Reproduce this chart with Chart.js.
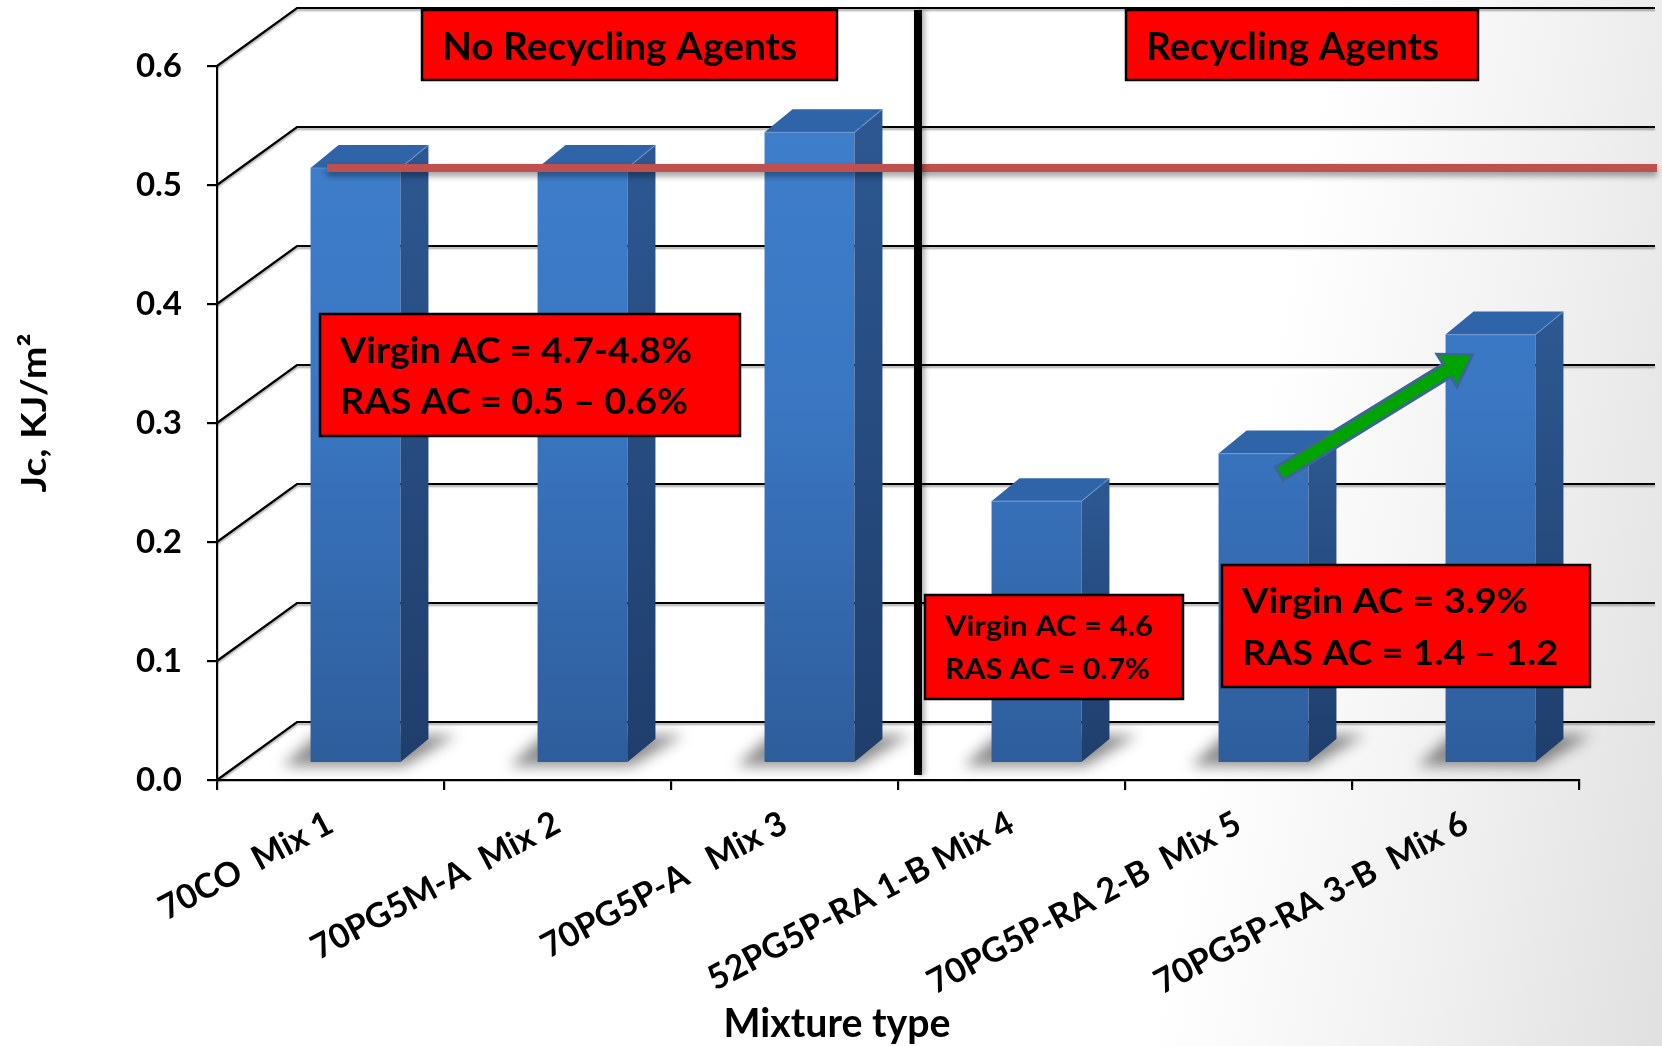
<!DOCTYPE html>
<html>
<head>
<meta charset="utf-8">
<script src="https://cdn.jsdelivr.net/npm/chart.js@4.4.1/dist/chart.umd.min.js"></script>
<style>
  html, body { margin: 0; padding: 0; }
  body {
    width: 1662px; height: 1046px; overflow: hidden;
    background: linear-gradient(100deg, #ffffff 0%, #ffffff 72%, #f1f1f1 86%, #e0e0e0 100%);
  }
  canvas { display: block; }
</style>
</head>
<body>
<canvas id="jcChart" width="1662" height="1046"></canvas>
<script>
// ---- data ----
const mixtureLabels = [
  '70CO  Mix 1',
  '70PG5M-A  Mix 2',
  '70PG5P-A   Mix 3',
  '52PG5P-RA 1-B Mix 4',
  '70PG5P-RA 2-B  Mix 5',
  '70PG5P-RA 3-B  Mix 6'
];
const jcValues = [0.50, 0.50, 0.53, 0.22, 0.26, 0.36];
const thresholdJc = 0.5;
const yMin = 0;
const yMax = 0.6;
const yStep = 0.1;
const groupTitles = ['No Recycling Agents', 'Recycling Agents'];
const noteNoAgents = ['Virgin AC = 4.7-4.8%', 'RAS AC = 0.5 \u2013 0.6%'];
const noteMix4 = ['Virgin AC = 4.6', 'RAS AC = 0.7%'];
const noteMix56 = ['Virgin AC = 3.9%', 'RAS AC = 1.4 \u2013 1.2'];
const yAxisTitle = 'Jc, KJ/m\u00B2';
const xAxisTitle = 'Mixture type';

// ---- 3D look ----
const FONT = 'Lato, "Open Sans", sans-serif';
const WALL = { dx: 80, dy: -58 };      // back wall offset from the front axes
const PLANE = { dx: 25, dy: -17 };     // plane the bars stand in
const DEPTH = { dx: 28, dy: -23 };     // bar thickness

function fitText(ctx, text, x, y, size, width, align) {
  ctx.font = 'bold ' + size + 'px ' + FONT;
  const w = ctx.measureText(text).width;
  ctx.save();
  ctx.translate(x, y);
  ctx.scale(width / w, 1);
  ctx.textAlign = align || 'left';
  ctx.textBaseline = 'alphabetic';
  ctx.fillText(text, 0, 0);
  ctx.restore();
}

function noteBox(ctx, r, lines, size, widths, baselines) {
  ctx.save();
  ctx.fillStyle = '#ff0000';
  ctx.fillRect(r.x, r.y, r.w, r.h);
  ctx.lineWidth = 2.5;
  ctx.strokeStyle = '#000';
  ctx.strokeRect(r.x, r.y, r.w, r.h);
  ctx.fillStyle = '#000';
  lines.forEach((t, i) => fitText(ctx, t, r.tx, baselines[i], size, widths[i]));
  ctx.restore();
}

function barBoxes(chart) {
  const meta = chart.getDatasetMeta(0);
  return meta.data.map(el => {
    const p = el.getProps(['x', 'y', 'base', 'width'], true);
    return {
      xl: p.x - p.width / 2 + PLANE.dx,
      xr: p.x + p.width / 2 + PLANE.dx,
      xc: p.x + PLANE.dx,
      yt: p.y + PLANE.dy,
      yb: p.base + PLANE.dy
    };
  });
}

const depthPlugin = {
  id: 'depthPlugin',
  beforeDatasetsDraw(chart) {
    const { ctx, chartArea: a, scales: { y } } = chart;
    // back wall and side wall grid
    ctx.save();
    ctx.strokeStyle = '#000';
    ctx.lineWidth = 2.2;
    ctx.shadowColor = 'rgba(0,0,0,0.35)';
    ctx.shadowOffsetY = 2;
    ctx.shadowBlur = 2;
    y.ticks.forEach(t => {
      const py = y.getPixelForValue(t.value);
      ctx.beginPath();
      ctx.moveTo(a.left, py);
      ctx.lineTo(a.left + WALL.dx, py + WALL.dy);
      ctx.lineTo(chart.width - 7, py + WALL.dy);
      ctx.stroke();
    });
    ctx.restore();

    // soft floor shadows
    ctx.save();
    ctx.filter = 'blur(7px)';
    ctx.fillStyle = 'rgba(0,0,0,0.45)';
    barBoxes(chart).forEach(b => {
      ctx.beginPath();
      ctx.moveTo(b.xl - 28, b.yb + 4);
      ctx.lineTo(b.xr + 4, b.yb + 4);
      ctx.lineTo(b.xr + DEPTH.dx + 28, b.yb + DEPTH.dy - 4);
      ctx.lineTo(b.xl + 6, b.yb + DEPTH.dy - 4);
      ctx.closePath();
      ctx.fill();
    });
    ctx.restore();

    ctx.save();
    ctx.translate(PLANE.dx, PLANE.dy);
  },
  afterDatasetsDraw(chart) {
    const { ctx, chartArea: a, scales: { x, y } } = chart;
    ctx.restore();

    // side and top faces of the bars
    barBoxes(chart).forEach(b => {
      const side = ctx.createLinearGradient(0, b.yt, 0, b.yb);
      side.addColorStop(0, '#2c5790');
      side.addColorStop(1, '#1f3e6c');
      ctx.fillStyle = side;
      ctx.beginPath();
      ctx.moveTo(b.xr, b.yt);
      ctx.lineTo(b.xr + DEPTH.dx, b.yt + DEPTH.dy);
      ctx.lineTo(b.xr + DEPTH.dx, b.yb + DEPTH.dy);
      ctx.lineTo(b.xr, b.yb);
      ctx.closePath();
      ctx.fill();

      ctx.fillStyle = '#2f64a8';
      ctx.beginPath();
      ctx.moveTo(b.xl, b.yt);
      ctx.lineTo(b.xr, b.yt);
      ctx.lineTo(b.xr + DEPTH.dx, b.yt + DEPTH.dy);
      ctx.lineTo(b.xl + DEPTH.dx, b.yt + DEPTH.dy);
      ctx.closePath();
      ctx.fill();
      ctx.strokeStyle = 'rgba(120,160,215,0.6)';
      ctx.lineWidth = 1.2;
      ctx.beginPath();
      ctx.moveTo(b.xl, b.yt);
      ctx.lineTo(b.xr, b.yt);
      ctx.lineTo(b.xr + DEPTH.dx, b.yt + DEPTH.dy);
      ctx.stroke();
    });

    // threshold line in the bar plane
    const ty = y.getPixelForValue(thresholdJc) + PLANE.dy;
    ctx.save();
    ctx.shadowColor = 'rgba(0,0,0,0.4)';
    ctx.shadowBlur = 6;
    ctx.shadowOffsetY = 4;
    ctx.strokeStyle = '#c0504d';
    ctx.lineWidth = 8;
    ctx.beginPath();
    ctx.moveTo(a.left + 110, ty);
    ctx.lineTo(chart.width - 5, ty);
    ctx.stroke();
    ctx.restore();

    // divider between the two groups
    const divX = x.getPixelForValue(2) + (x.getPixelForValue(3) - x.getPixelForValue(2)) / 2 + 20;
    const divTop = y.getPixelForValue(yMax) + WALL.dy + 2;
    ctx.save();
    ctx.shadowColor = 'rgba(0,0,0,0.3)';
    ctx.shadowBlur = 5;
    ctx.shadowOffsetX = 3;
    ctx.fillStyle = '#000';
    ctx.fillRect(divX - 4, divTop, 8, a.bottom - 5 - divTop);
    ctx.restore();

    // group headers
    noteBox(ctx, { x: 422, y: 10, w: 415, h: 70, tx: 442 }, [groupTitles[0]], 39, [355], [60]);
    noteBox(ctx, { x: 1126, y: 10, w: 352, h: 70, tx: 1146 }, [groupTitles[1]], 39, [293], [60]);

    // mixture notes
    noteBox(ctx, { x: 320, y: 314, w: 420, h: 122, tx: 340 }, noteNoAgents, 36, [352, 348], [363, 414]);
    noteBox(ctx, { x: 925, y: 595, w: 258, h: 104, tx: 945 }, noteMix4, 29, [208, 205], [636, 679]);
    noteBox(ctx, { x: 1222, y: 565, w: 368, h: 122, tx: 1242 }, noteMix56, 35, [286, 316], [613, 665]);

    // trend arrow from Mix 5 to Mix 6
    const bars = barBoxes(chart);
    const t0 = { x: bars[4].xc + 16, y: bars[4].yt + 20 };
    const t1 = { x: bars[5].xc - 18, y: bars[5].yt + 20 };
    const ang = Math.atan2(t1.y - t0.y, t1.x - t0.x);
    const len = Math.hypot(t1.x - t0.x, t1.y - t0.y);
    const shaft = 7.5, head = 19, headLen = 30;
    ctx.save();
    ctx.translate(t0.x, t0.y);
    ctx.rotate(ang);
    ctx.beginPath();
    ctx.moveTo(0, -shaft);
    ctx.lineTo(len - headLen, -shaft);
    ctx.lineTo(len - headLen, -head);
    ctx.lineTo(len, 0);
    ctx.lineTo(len - headLen, head);
    ctx.lineTo(len - headLen, shaft);
    ctx.lineTo(0, shaft);
    ctx.closePath();
    ctx.fillStyle = '#00a400';
    ctx.fill();
    ctx.lineWidth = 3;
    ctx.strokeStyle = '#3d6496';
    ctx.stroke();
    ctx.restore();
  },
  afterDraw(chart) {
    const { ctx, chartArea: a } = chart;
    ctx.save();
    ctx.fillStyle = '#000';
    // y axis title, rotated
    ctx.save();
    ctx.translate(a.left - 171, (a.top + a.bottom) / 2 - 10);
    ctx.rotate(-Math.PI / 2);
    fitText(ctx, yAxisTitle, 0, 0, 34, 159, 'center');
    ctx.restore();
    // x axis title
    fitText(ctx, xAxisTitle, a.left + 620, 1037, 41, 227, 'center');
    ctx.restore();
  }
};

const frontGradient = (c) => {
  const chart = c.chart;
  const a = chart.chartArea;
  if (!a) return '#3670b8';
  const g = chart.ctx.createLinearGradient(0, a.top, 0, a.bottom);
  g.addColorStop(0, '#3f80cd');
  g.addColorStop(0.5, '#3a76c2');
  g.addColorStop(1, '#2e5d9b');
  return g;
};

new Chart(document.getElementById('jcChart'), {
  type: 'bar',
  data: {
    labels: mixtureLabels,
    datasets: [{
      label: 'Jc',
      data: jcValues,
      backgroundColor: frontGradient,
      borderWidth: 0,
      categoryPercentage: 1,
      barPercentage: 0.396
    }]
  },
  options: {
    responsive: false,
    animation: false,
    devicePixelRatio: 1,
    layout: { padding: { left: 0, top: 66, right: 83, bottom: 0 } },
    plugins: {
      legend: { display: false },
      tooltip: { enabled: false }
    },
    scales: {
      x: {
        afterFit: s => { s.height = 266; },
        border: { display: true, color: '#000', width: 2.2 },
        grid: { display: true, drawOnChartArea: false, drawTicks: true, tickLength: 10, color: '#000', lineWidth: 2.2 },
        ticks: {
          color: '#000',
          font: { family: FONT, weight: 'bold', size: 34 },
          minRotation: 28,
          maxRotation: 28,
          autoSkip: false,
          padding: 13
        }
      },
      y: {
        min: yMin,
        max: yMax,
        afterFit: s => { s.width = 217; },
        border: { display: true, color: '#000', width: 2.2 },
        grid: { display: true, drawOnChartArea: false, drawTicks: true, tickLength: 10, color: '#000', lineWidth: 2.2 },
        ticks: {
          stepSize: yStep,
          color: '#000',
          padding: 25,
          font: { family: FONT, weight: 'bold', size: 33 },
          callback: v => Number(v).toFixed(1)
        }
      }
    }
  },
  plugins: [depthPlugin]
});
</script>
</body>
</html>
